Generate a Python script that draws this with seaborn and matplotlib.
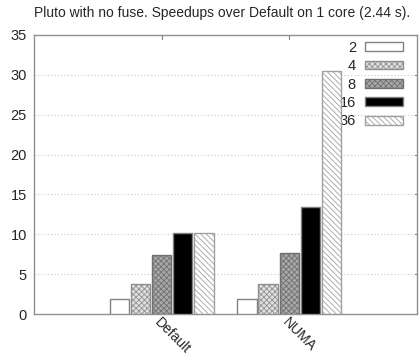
import matplotlib
matplotlib.use("Agg")
import matplotlib.pyplot as plt
import seaborn as sns
import pandas as pd

configs = ["Default", "NUMA"]
cores = ["2", "4", "8", "16", "36"]
default_speedup = [1.9, 3.75, 7.4, 10.15, 10.15]
numa_speedup = [1.85, 3.75, 7.6, 13.4, 30.5]

df = pd.DataFrame({
    "config": ["Default"] * 5 + ["NUMA"] * 5,
    "cores": cores + cores,
    "speedup": default_speedup + numa_speedup,
})

sns.set_style("white")
plt.rcParams["font.family"] = ["Liberation Sans", "DejaVu Sans"]
plt.rcParams["hatch.linewidth"] = 0.6

fig = plt.figure(figsize=(4.19, 3.57), dpi=100)
ax = fig.add_axes([0.081, 0.1204, 0.914, 0.7816])

sns.barplot(data=df, x="config", y="speedup", hue="cores", order=configs,
            hue_order=cores, width=0.83, gap=0.09, ax=ax, legend=False,
            errorbar=None, zorder=3)

# gnuplot-ish fill styles
styles = [
    dict(facecolor="white", edgecolor="#808080", hatch=None),
    dict(facecolor="#e0e0e0", edgecolor="#909090", hatch="xxxxxx"),
    dict(facecolor="#a8a8a8", edgecolor="#707070", hatch="xxxxxx"),
    dict(facecolor="black", edgecolor="#808080", hatch=None),
    dict(facecolor="white", edgecolor="#a0a0a0", hatch="\\\\\\\\\\\\"),
]
for cont, st in zip(ax.containers, styles):
    for p in cont:
        p.set_facecolor(st["facecolor"])
        p.set_edgecolor(st["edgecolor"])
        p.set_linewidth(1.0)
        p.set_zorder(3)
        if st["hatch"]:
            p.set_hatch(st["hatch"])

ax.set_xlim(-1, 2)
ax.set_ylim(0, 35)
ax.set_yticks(range(0, 36, 5))
ax.set_xticks([0, 1])
ax.set_xticklabels(configs, rotation=-45, ha="left", va="top",
                   rotation_mode="anchor", fontsize=10)
ax.tick_params(axis="y", labelsize=10.5, length=0, pad=5)
ax.tick_params(axis="x", length=0, pad=1)
ax.set_xlabel("")
ax.set_ylabel("")

for y in range(5, 35, 5):
    ax.axhline(y, color="#c8c8c8", lw=0.8, ls=(0, (1, 2)), zorder=0)
    ax.plot([2, 1.985], [y, y], color="#808080", lw=0.8, clip_on=False)
for x in [0, 1]:
    ax.plot([x, x], [35, 34.5], color="#808080", lw=0.8)

for s in ax.spines.values():
    s.set_visible(True)
    s.set_color("#909090")
    s.set_linewidth(1.0)

leg = ax.legend(ax.containers, cores, loc="upper right", frameon=False,
                markerfirst=False, fontsize=10.5, handlelength=2.6,
                handleheight=0.55, labelspacing=0.3, handletextpad=0.6,
                borderaxespad=0.0, bbox_to_anchor=(0.978, 1.0))
leg.set_zorder(1)

fig.text(0.53, 0.963, "Pluto with no fuse. Speedups over Default on 1 core (2.44 s).",
         ha="center", va="center", fontsize=10)

fig.savefig("out.png", dpi=100)
